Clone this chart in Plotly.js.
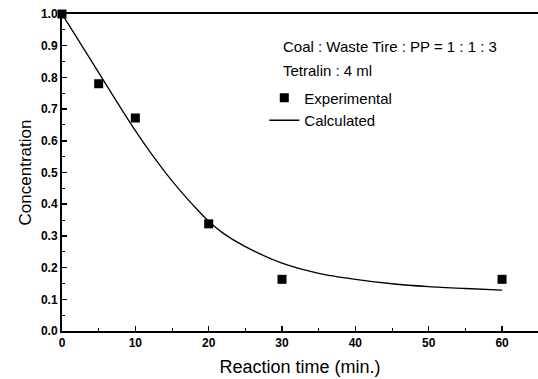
<!DOCTYPE html>
<html><head><meta charset="utf-8">
<script src="https://cdn.plot.ly/plotly-3.0.1.min.js"></script>
<style>html,body{margin:0;padding:0;background:#fff;}#chart{width:538px;height:379px;}</style>
</head><body><div id="chart"></div>
<script>
var expTime = [0, 5, 10, 20, 30, 60];
var expConc = [1.0, 0.78, 0.672, 0.338, 0.163, 0.163];
var calcTime = [0, 2, 4, 6, 8, 10, 12, 14, 16, 18, 20, 22, 25, 30, 35, 40, 45, 50, 55, 60];
var calcConc = [1.0, 0.926, 0.852, 0.778, 0.704, 0.632, 0.565, 0.503, 0.446, 0.394, 0.346, 0.308, 0.266, 0.214, 0.182, 0.163, 0.149, 0.14, 0.134, 0.129];
var xTicks = [0, 10, 20, 30, 40, 50, 60];
var yTicks = [0, 0.1, 0.2, 0.3, 0.4, 0.5, 0.6, 0.7, 0.8, 0.9, 1.0];

var traces = [
  {x: expTime, y: expConc, mode: 'markers', name: 'Experimental', type: 'scatter',
   marker: {symbol: 'square', size: 9, color: '#000'}, cliponaxis: false},
  {x: calcTime, y: calcConc, mode: 'lines', name: 'Calculated', type: 'scatter',
   line: {color: '#000', width: 1.3, shape: 'spline', smoothing: 0.8}}
];
var F = 'Arial, "Liberation Sans", sans-serif';
var layout = {
  width: 538, height: 379,
  margin: {l: 62, r: 0, t: 14, b: 48},
  paper_bgcolor: '#fff', plot_bgcolor: '#fff',
  font: {family: F, color: '#000'},
  showlegend: true,
  legend: {x: 0.425, y: 0.787, xanchor: 'left', yanchor: 'top', bgcolor: 'rgba(0,0,0,0)',
           font: {family: F, size: 15, color: '#000'}, tracegroupgap: 0, itemwidth: 30},
  xaxis: {range: [0, 64.9], tickvals: xTicks, ticktext: xTicks.map(String),
          ticks: 'inside', ticklen: 5, tickwidth: 1.5, tickcolor: '#000',
          minor: {dtick: 5, tick0: 0, ticks: 'inside', ticklen: 3, tickwidth: 1, tickcolor: '#000'},
          showline: true, linewidth: 2, linecolor: '#000', mirror: true,
          showgrid: false, zeroline: false,
          tickfont: {family: F, size: 12, weight: 'bold'},
          title: {text: 'Reaction time (min.)', font: {family: F, size: 18}, standoff: 11}},
  yaxis: {range: [0, 1.0], tickvals: yTicks, ticktext: yTicks.map(function(v){return v.toFixed(1);}),
          ticks: 'inside', ticklen: 5, tickwidth: 1.5, tickcolor: '#000',
          minor: {dtick: 0.05, tick0: 0, ticks: 'inside', ticklen: 3, tickwidth: 1, tickcolor: '#000'},
          showline: true, linewidth: 2, linecolor: '#000', mirror: true,
          showgrid: false, zeroline: false,
          tickfont: {family: F, size: 12, weight: 'bold'},
          title: {text: 'Concentration', font: {family: F, size: 17}, standoff: 5}},
  annotations: [
    {xref: 'paper', yref: 'paper', x: 0.46, y: 0.897, xanchor: 'left', yanchor: 'middle',
     text: 'Coal : Waste Tire : PP = 1 : 1 : 3', showarrow: false, font: {family: F, size: 15}},
    {xref: 'paper', yref: 'paper', x: 0.46, y: 0.822, xanchor: 'left', yanchor: 'middle',
     text: 'Tetralin : 4 ml', showarrow: false, font: {family: F, size: 15}}
  ]
};
Plotly.newPlot('chart', traces, layout, {displayModeBar: false, staticPlot: true});
</script></body></html>
